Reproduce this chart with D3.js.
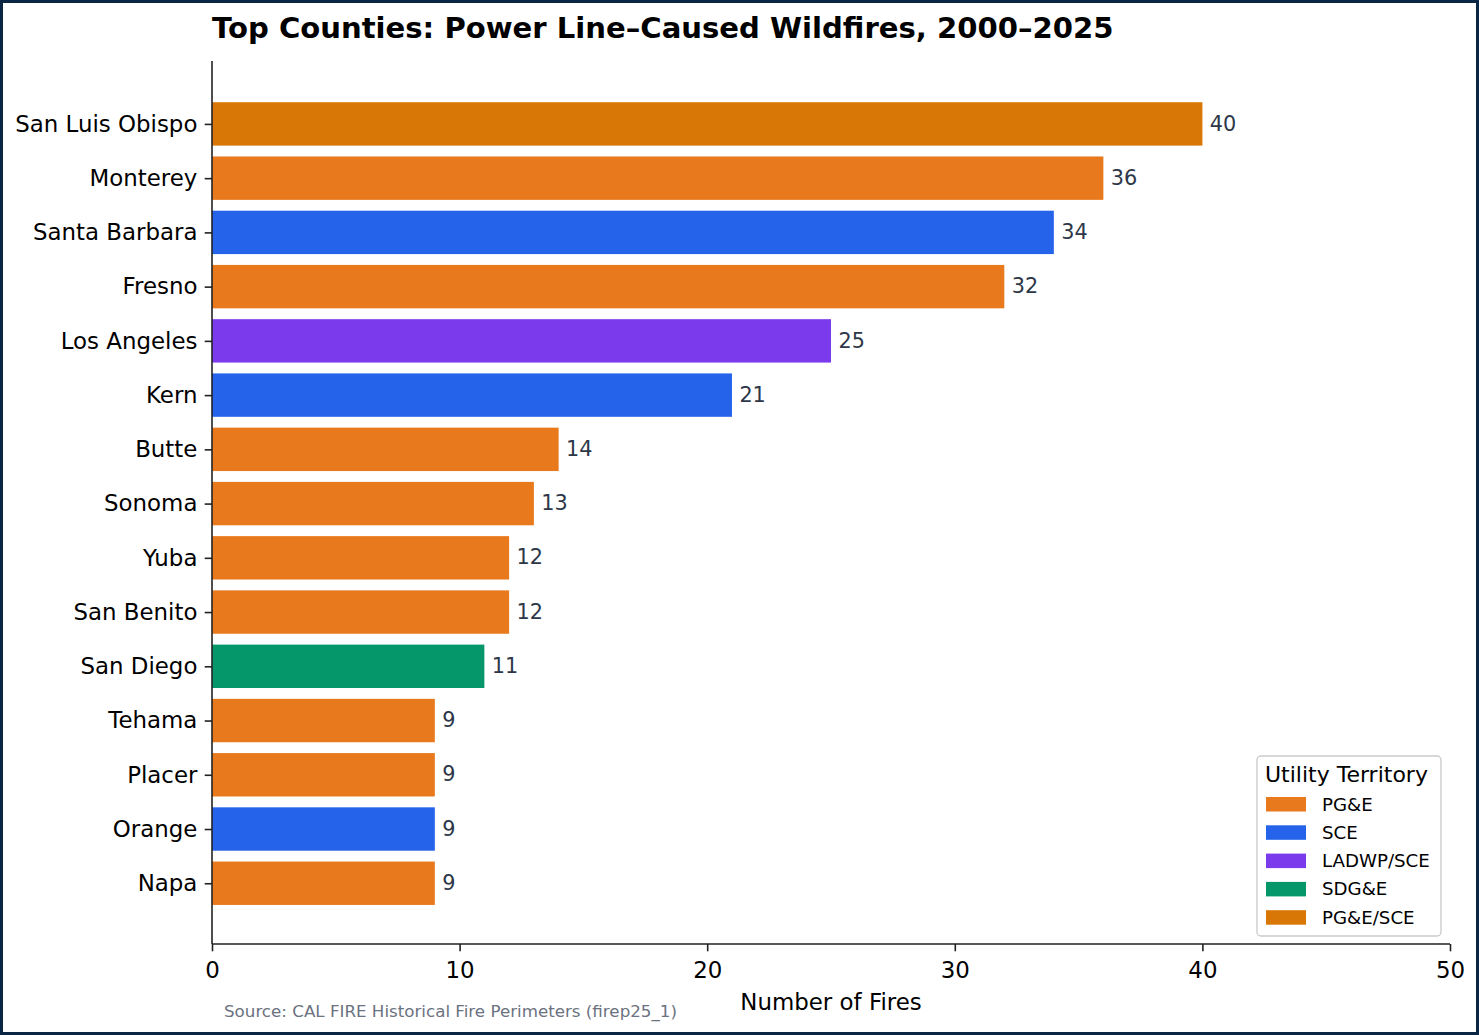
<!DOCTYPE html>
<html>
<head>
<meta charset="utf-8">
<script src="https://cdn.jsdelivr.net/npm/d3@7"></script>
<style>
  html, body { margin: 0; padding: 0; background: #fff; }
  svg { display: block; font-family: "DejaVu Sans", sans-serif; }
</style>
</head>
<body>
<svg id="chart" width="1479" height="1035"></svg>
<script>
// Chart data (top to bottom)
const counties = ["San Luis Obispo", "Monterey", "Santa Barbara", "Fresno", "Los Angeles",
    "Kern", "Butte", "Sonoma", "Yuba", "San Benito", "San Diego", "Tehama", "Placer", "Orange", "Napa"];
const fireCounts = [40, 36, 34, 32, 25, 21, 14, 13, 12, 12, 11, 9, 9, 9, 9];
const utilities = ["PG&E/SCE", "PG&E", "SCE", "PG&E", "LADWP/SCE", "SCE", "PG&E", "PG&E",
    "PG&E", "PG&E", "SDG&E", "PG&E", "PG&E", "SCE", "PG&E"];

// Legend order and colours
const utilityNames = ["PG&E", "SCE", "LADWP/SCE", "SDG&E", "PG&E/SCE"];
const utilityColors = ["#e8791c", "#2563eb", "#7c3aed", "#059669", "#d97706"];

const xTicks = [0, 10, 20, 30, 40, 50];

const svg = d3.select('#chart');
const W = 1479, H = 1035;

// Plot area
const plotLeft = 212, plotRight = 1450, plotTop = 61, plotBottom = 944;

const x = d3.scaleLinear().domain([0, 50]).range([plotLeft, plotRight]);
// matplotlib-style margins around the bars
const y = d3.scaleLinear().domain([-1.16, counties.length - 1 + 1.12]).range([plotTop, plotBottom]);
const color = d3.scaleOrdinal().domain(utilityNames).range(utilityColors);

const barH = y(0.8) - y(0);

const rows = counties.map((c, i) => ({ county: c, value: fireCounts[i], utility: utilities[i], i }));

// Bars
svg.append('g')
    .selectAll('rect')
    .data(rows)
    .enter()
    .append('rect')
    .attr('x', x(0))
    .attr('y', d => y(d.i) - barH / 2)
    .attr('width', d => x(d.value) - x(0))
    .attr('height', barH)
    .attr('fill', d => color(d.utility));

// Value labels
svg.append('g')
    .selectAll('text')
    .data(rows)
    .enter()
    .append('text')
    .attr('x', d => x(d.value + 0.3))
    .attr('y', d => y(d.i))
    .attr('dy', '0.32em')
    .attr('font-size', 20.8)
    .attr('fill', '#2d3748')
    .text(d => d.value);

// X axis
const xAxis = svg.append('g')
    .attr('transform', `translate(0,${plotBottom})`)
    .call(d3.axisBottom(x).tickValues(xTicks).tickFormat(d3.format('d'))
        .tickSize(7.3).tickPadding(10).tickSizeOuter(0));

// Y axis
const yAxis = svg.append('g')
    .attr('transform', `translate(${plotLeft},0)`)
    .call(d3.axisLeft(y).tickValues(d3.range(counties.length)).tickFormat(i => counties[i])
        .tickSize(7.3).tickPadding(7.3).tickSizeOuter(0));

[xAxis, yAxis].forEach(ax => {
    ax.attr('font-family', '"DejaVu Sans", sans-serif').attr('font-size', 22.9);
    ax.select('.domain').attr('stroke', '#222').attr('stroke-width', 1.6);
    ax.selectAll('.tick line').attr('stroke', '#222').attr('stroke-width', 1.6);
    ax.selectAll('.tick text').attr('fill', '#000');
});
// extend the spines to the full plot area
xAxis.select('.domain').attr('d', `M${plotLeft},0H${plotRight}`);
yAxis.select('.domain').attr('d', `M0,${plotTop}V${plotBottom}`);

// Title
svg.append('text')
    .attr('x', plotLeft)
    .attr('y', 38)
    .attr('font-size', 29.1)
    .attr('font-weight', 'bold')
    .attr('fill', '#000')
    .text('Top Counties: Power Line\u2013Caused Wildfires, 2000\u20132025');

// X label
svg.append('text')
    .attr('x', (plotLeft + plotRight) / 2)
    .attr('y', 1010)
    .attr('text-anchor', 'middle')
    .attr('font-size', 22.9)
    .attr('fill', '#000')
    .text('Number of Fires');

// Source note
svg.append('text')
    .attr('x', 224)
    .attr('y', 1017)
    .attr('font-size', 16.7)
    .attr('fill', '#6b7280')
    .text('Source: CAL FIRE Historical Fire Perimeters (firep25_1)');

// Legend
const legend = svg.append('g').attr('transform', 'translate(1257,756)');
legend.append('rect')
    .attr('width', 184)
    .attr('height', 180)
    .attr('rx', 4)
    .attr('fill', '#fff')
    .attr('fill-opacity', 0.8)
    .attr('stroke', '#cccccc')
    .attr('stroke-width', 1.4);
legend.append('text')
    .attr('x', 8)
    .attr('y', 26)
    .attr('font-size', 22)
    .attr('fill', '#000')
    .text('Utility Territory');
const items = legend.selectAll('g.item')
    .data(utilityNames)
    .enter()
    .append('g')
    .attr('class', 'item')
    .attr('transform', (d, i) => `translate(0,${48 + i * 28.3})`);
items.append('rect')
    .attr('x', 9)
    .attr('y', -7)
    .attr('width', 40)
    .attr('height', 14.5)
    .attr('fill', d => color(d));
items.append('text')
    .attr('x', 65)
    .attr('dy', '0.36em')
    .attr('font-size', 18.2)
    .attr('fill', '#000')
    .text(d => d);

// Outer frame
svg.append('rect')
    .attr('x', 1.5)
    .attr('y', 1.5)
    .attr('width', W - 3)
    .attr('height', H - 3)
    .attr('fill', 'none')
    .attr('stroke', '#0b2545')
    .attr('stroke-width', 3);
</script>
</body>
</html>
